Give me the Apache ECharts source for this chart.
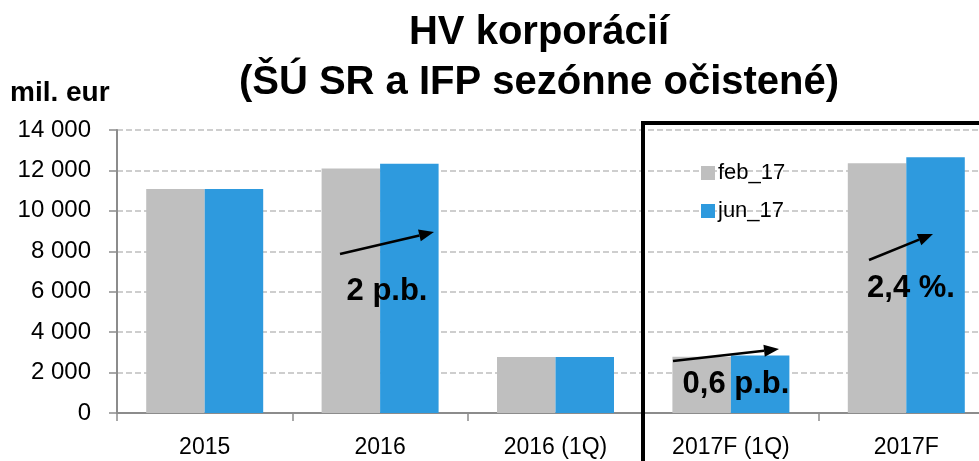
<!DOCTYPE html>
<html>
<head>
<meta charset="utf-8">
<script src="https://cdn.jsdelivr.net/npm/echarts@6/dist/echarts.min.js"></script>
<style>
  html, body { margin: 0; padding: 0; background: #fff; }
  #chart { width: 979px; height: 461px; }
</style>
</head>
<body>
<div id="chart"></div>
<script>
// data
const categories = ['2015', '2016', '2016 (1Q)', '2017F (1Q)', '2017F']
const feb17 = [11080, 12100, 2770, 2780, 12350]
const jun17 = [11080, 12330, 2770, 2840, 12650]
const seriesNames = ['feb_17', 'jun_17']
const notes = ['2 p.b.', '0,6 p.b.', '2,4 %.']

const GRAY = '#bfbfbf'
const BLUE = '#2e9ade'

// arrow = line + head polygon
function arrow(x1, y1, x2, y2) {
  const dx = x2 - x1
  const dy = y2 - y1
  const len = Math.sqrt(dx * dx + dy * dy)
  const ux = dx / len
  const uy = dy / len
  const hl = 15
  const hw = 6
  const bx = x2 - ux * hl
  const by = y2 - uy * hl
  return [{
    type: 'line',
    z: 10,
    shape: { x1: x1, y1: y1, x2: bx, y2: by },
    style: { stroke: '#000', lineWidth: 2.5 }
  }, {
    type: 'polygon',
    z: 10,
    shape: { points: [[x2, y2], [bx - uy * hw, by + ux * hw], [bx + uy * hw, by - ux * hw]] },
    style: { fill: '#000' }
  }]
}

function note(text, x, y) {
  return {
    type: 'text',
    z: 11,
    x: x,
    y: y,
    style: {
      text: text,
      font: 'bold 31px "Liberation Sans", Arial, sans-serif',
      fill: '#000',
      align: 'center',
      verticalAlign: 'middle'
    }
  }
}

const chart = echarts.init(document.getElementById('chart'))

const option = {
  backgroundColor: '#fff',
  animation: false,
  title: [{
    text: 'HV korporácií\n(ŠÚ SR a IFP sezónne očistené)',
    left: 534,
    top: 3,
    textAlign: 'center',
    textStyle: {
      fontFamily: 'Liberation Sans',
      fontWeight: 'bold',
      fontSize: 40,
      lineHeight: 50,
      color: '#000'
    }
  }, {
    text: 'mil. eur',
    left: 5,
    top: 74,
    textStyle: {
      fontFamily: 'Liberation Sans',
      fontWeight: 'bold',
      fontSize: 28,
      color: '#000'
    }
  }],
  legend: {
    orient: 'vertical',
    left: 696,
    top: 157,
    itemWidth: 14,
    itemHeight: 14,
    itemGap: 16,
    icon: 'rect',
    data: seriesNames,
    textStyle: {
      fontFamily: 'Liberation Sans',
      fontSize: 22,
      color: '#000',
      padding: [0, 0, 0, -2]
    }
  },
  grid: {
    left: 117,
    top: 130,
    right: -15,
    bottom: 48,
    outerBoundsMode: 'none',
    containLabel: false
  },
  xAxis: {
    type: 'category',
    data: categories,
    axisLine: { lineStyle: { color: '#8c8c8c', width: 2 } },
    axisTick: { show: true, length: 8, lineStyle: { color: '#8c8c8c', width: 1.5 } },
    axisLabel: {
      margin: 23,
      fontFamily: 'Liberation Sans',
      fontSize: 23,
      color: '#000'
    }
  },
  yAxis: {
    type: 'value',
    min: 0,
    max: 14000,
    interval: 2000,
    axisLine: { show: true, lineStyle: { color: '#8c8c8c', width: 2 } },
    axisTick: { show: true, length: 8, lineStyle: { color: '#8c8c8c', width: 1.5 } },
    axisLabel: {
      margin: 26,
      fontFamily: 'Liberation Sans',
      fontSize: 24,
      color: '#000',
      formatter: function (v) {
        return String(v).replace(/\B(?=(\d{3})+(?!\d))/g, ' ')
      }
    },
    splitLine: {
      lineStyle: { color: '#bfbfbf', width: 1.5, type: [6, 3] }
    }
  },
  series: [{
    name: seriesNames[0],
    type: 'bar',
    data: feb17,
    barGap: '0%',
    barCategoryGap: '33.3%',
    itemStyle: { color: GRAY }
  }, {
    name: seriesNames[1],
    type: 'bar',
    data: jun17,
    barGap: '0%',
    barCategoryGap: '33.3%',
    itemStyle: { color: BLUE }
  }],
  graphic: [
    {
      type: 'rect',
      z: 12,
      shape: { x: 643, y: 123, width: 500, height: 500 },
      style: { fill: 'none', stroke: '#000', lineWidth: 4 }
    },
    ...arrow(340, 254, 434, 232),
    ...arrow(673, 361, 779, 349),
    ...arrow(869, 260, 933, 234),
    note(notes[0], 387, 291),
    note(notes[1], 736, 384),
    note(notes[2], 911, 288)
  ]
}

chart.setOption(option)
</script>
</body>
</html>
